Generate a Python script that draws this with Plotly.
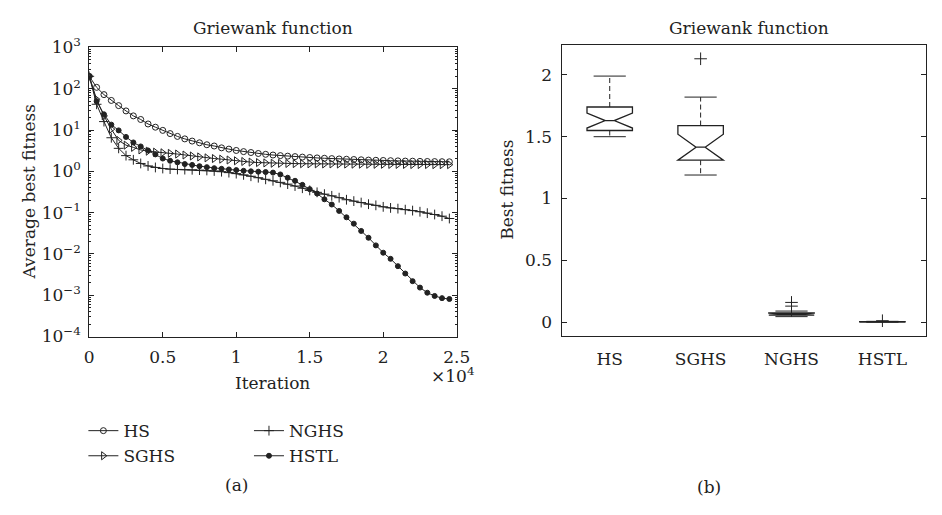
import plotly.graph_objects as go

# ---------------- data: convergence curves (panel a) ----------------
iterations = [0, 500, 1000, 1500, 2000, 2500, 3000, 3500, 4000, 4500,
              5000, 5500, 6000, 6500, 7000, 7500, 8000, 8500, 9000, 9500,
              10000, 10500, 11000, 11500, 12000, 12500, 13000, 13500, 14000, 14500,
              15000, 15500, 16000, 16500, 17000, 17500, 18000, 18500, 19000, 19500,
              20000, 20500, 21000, 21500, 22000, 22500, 23000, 23500, 24000, 24500]

hs = [200, 108, 72, 52, 39, 29, 22, 18, 14, 11.7,
      9.8, 8.2, 7.0, 6.1, 5.4, 4.9, 4.4, 4.1, 3.7, 3.45,
      3.2, 3.0, 2.85, 2.7, 2.58, 2.48, 2.4, 2.33, 2.27, 2.21,
      2.16, 2.11, 2.07, 2.03, 1.99, 1.96, 1.93, 1.9, 1.87, 1.85,
      1.83, 1.81, 1.79, 1.77, 1.76, 1.74, 1.73, 1.72, 1.71, 1.7]

sghs = [200, 55, 22, 10.5, 5.6, 4.3, 3.8, 3.3, 3.07, 2.91,
        2.81, 2.72, 2.62, 2.48, 2.35, 2.23, 2.12, 2.04, 1.97, 1.88,
        1.8, 1.73, 1.67, 1.63, 1.6, 1.57, 1.56, 1.55, 1.54, 1.53,
        1.52, 1.52, 1.51, 1.51, 1.5, 1.5, 1.49, 1.49, 1.48, 1.48,
        1.48, 1.47, 1.47, 1.47, 1.46, 1.46, 1.46, 1.45, 1.45, 1.45]

nghs = [200, 42, 16, 6.5, 3.6, 2.4, 1.9, 1.55, 1.35, 1.24,
        1.17, 1.13, 1.11, 1.1, 1.09, 1.07, 1.05, 1.02, 0.98, 0.93,
        0.88, 0.82, 0.76, 0.70, 0.64, 0.59, 0.54, 0.49, 0.44, 0.39,
        0.345, 0.31, 0.28, 0.255, 0.23, 0.205, 0.19, 0.175, 0.16, 0.15,
        0.138, 0.13, 0.125, 0.118, 0.112, 0.105, 0.097, 0.09, 0.082, 0.072]

hstl = [200, 50, 24, 13.5, 9.8, 6.8, 5.0, 4.0, 3.2, 2.57,
        2.04, 1.8, 1.65, 1.5, 1.43, 1.33, 1.26, 1.19, 1.15, 1.11,
        1.07, 1.03, 1.0, 0.98, 0.96, 0.93, 0.84, 0.70, 0.59, 0.47,
        0.37, 0.29, 0.21, 0.157, 0.11, 0.077, 0.054, 0.036, 0.0246, 0.0161,
        0.0107, 0.0076, 0.00505, 0.00335, 0.00219, 0.00153, 0.00115, 0.00096, 0.00085, 0.00081]

x_tick_vals = [0, 5000, 10000, 15000, 20000, 25000]
x_tick_text = ["0", "0.5", "1", "1.5", "2", "2.5"]
y_exponents = [-4, -3, -2, -1, 0, 1, 2, 3]

# ---------------- data: box plot (panel b) ----------------
algorithms = ["HS", "SGHS", "NGHS", "HSTL"]
box_q1 = [1.55, 1.31, 0.058, 0.001]
box_median = [1.63, 1.415, 0.066, 0.002]
box_q3 = [1.74, 1.59, 0.075, 0.004]
box_lower = [1.50, 1.19, 0.045, 0.0]
box_upper = [1.99, 1.82, 0.09, 0.007]
box_notch = [0.06, 0.105, 0.008, 0.001]
outlier_alg = ["SGHS", "NGHS", "NGHS", "HSTL"]
outlier_val = [2.13, 0.13, 0.16, 0.012]
box_y_ticks = [0, 0.5, 1, 1.5, 2]
box_y_text = ["0", "0.5", "1", "1.5", "2"]

# ---------------- styling ----------------
FONT = "DejaVu Serif"
INK = "#222222"
FS = 17
W, H = 942, 515

fig = go.Figure()

series = [
    ("HS", hs, "circle-open", 6, "legend"),
    ("SGHS", sghs, "triangle-right-open", 7, "legend"),
    ("NGHS", nghs, "cross-thin-open", 7, "legend2"),
    ("HSTL", hstl, "circle", 5, "legend2"),
]
for name, vals, sym, size, leg in series:
    fig.add_trace(go.Scatter(
        x=iterations, y=vals, name=name, mode="lines+markers",
        line=dict(color=INK, width=1),
        marker=dict(symbol=sym, size=size, color=INK, line=dict(color=INK, width=1)),
        xaxis="x", yaxis="y", legend=leg,
    ))

# box plot with hidden built-in whiskers
fig.add_trace(go.Box(
    x=algorithms, q1=box_q1, median=box_median, q3=box_q3,
    lowerfence=box_q1, upperfence=box_q3, notchspan=box_notch,
    notched=True, notchwidth=0.4, width=0.5, whiskerwidth=0,
    fillcolor="white", line=dict(color=INK, width=1.3),
    boxpoints=False, showlegend=False, xaxis="x2", yaxis="y2",
))

# dashed whiskers
wx, wy = [], []
for a, lo, q1, q3, up in zip(algorithms, box_lower, box_q1, box_q3, box_upper):
    wx += [a, a, None, a, a, None]
    wy += [q3, up, None, q1, lo, None]
fig.add_trace(go.Scatter(
    x=wx, y=wy, mode="lines", line=dict(color=INK, width=1, dash="5px,3px"),
    showlegend=False, xaxis="x2", yaxis="y2", hoverinfo="skip",
))
# whisker caps
fig.add_trace(go.Scatter(
    x=algorithms + algorithms, y=box_upper + box_lower, mode="markers",
    marker=dict(symbol="line-ew-open", size=23, color=INK, line=dict(color=INK, width=1)),
    showlegend=False, xaxis="x2", yaxis="y2", hoverinfo="skip",
))
# outliers
fig.add_trace(go.Scatter(
    x=outlier_alg, y=outlier_val, mode="markers",
    marker=dict(symbol="cross-thin-open", size=9, color=INK, line=dict(color=INK, width=1)),
    showlegend=False, xaxis="x2", yaxis="y2",
))

minor_vals = []
for e in y_exponents[:-1]:
    for k in range(2, 10):
        minor_vals.append(k * 10 ** e)

axis_common = dict(showline=True, linecolor=INK, linewidth=1, mirror="ticks",
                   ticks="inside", tickcolor=INK, showgrid=False, zeroline=False,
                   tickfont=dict(family=FONT, size=FS, color=INK))

def px_x(p):
    return p / W

def px_y(p):
    return 1 - p / H

fig.update_layout(
    width=W, height=H,
    margin=dict(l=0, r=0, t=0, b=0),
    paper_bgcolor="white", plot_bgcolor="white",
    font=dict(family=FONT, size=FS, color=INK),
    xaxis=dict(domain=[px_x(86), px_x(461)], range=[0, 25000], anchor="y",
               tickvals=x_tick_vals, ticktext=x_tick_text, ticklen=5,
               ticklabelstandoff=5, **axis_common),
    yaxis=dict(domain=[px_y(339), px_y(37)], type="log", range=[-4, 3], anchor="x",
               tickvals=[10 ** e for e in y_exponents],
               ticktext=["10<sup>" + str(e).replace("-", "\u2212") + "</sup>" for e in y_exponents],
               ticklen=5, ticklabelstandoff=4,
               minor=dict(tickvals=minor_vals, ticks="inside", ticklen=2, tickcolor=INK),
               **axis_common),
    xaxis2=dict(domain=[px_x(568), px_x(940)], range=[-0.53, 3.48], anchor="y2",
                type="category", showline=True, linecolor=INK, linewidth=1, mirror=True,
                ticks="", showgrid=False, zeroline=False, ticklabelstandoff=8,
                tickfont=dict(family=FONT, size=FS, color=INK)),
    yaxis2=dict(domain=[px_y(338), px_y(34)], range=[-0.108, 2.245], anchor="x2",
                tickvals=box_y_ticks, ticktext=box_y_text,
                ticklen=5, ticklabelstandoff=5, **axis_common),
    legend=dict(x=px_x(80), y=px_y(419), xanchor="left", yanchor="top",
                font=dict(family=FONT, size=FS, color=INK), bgcolor="rgba(0,0,0,0)",
                tracegroupgap=0),
    legend2=dict(x=px_x(249), y=px_y(419), xanchor="left", yanchor="top",
                 font=dict(family=FONT, size=FS, color=INK), bgcolor="rgba(0,0,0,0)",
                 tracegroupgap=0),
)

ann = dict(showarrow=False, xref="paper", yref="paper", font=dict(family=FONT, size=FS, color=INK))
fig.add_annotation(text="Griewank function", x=px_x(273.5), y=px_y(17), xanchor="center", yanchor="middle", **ann)
fig.add_annotation(text="Griewank function", x=px_x(759), y=px_y(17), xanchor="center", yanchor="middle", **ann)
fig.add_annotation(text="Average best fitness", x=px_x(24), y=px_y(188), textangle=-90,
                   xanchor="center", yanchor="middle", **ann)
fig.add_annotation(text="Best fitness", x=px_x(512), y=px_y(186), textangle=-90,
                   xanchor="center", yanchor="middle", **ann)
fig.add_annotation(text="Iteration", x=px_x(273.5), y=px_y(388), xanchor="center", yanchor="middle", **ann)
fig.add_annotation(text="\u00d710<sup>4</sup>", x=px_x(457), y=px_y(366), xanchor="center", yanchor="top", **ann)
fig.add_annotation(text="(a)", x=px_x(236), y=px_y(494), xanchor="center", yanchor="middle", **ann)
fig.add_annotation(text="(b)", x=px_x(718), y=px_y(496), xanchor="center", yanchor="middle", **ann)

fig.write_html("out.html")
